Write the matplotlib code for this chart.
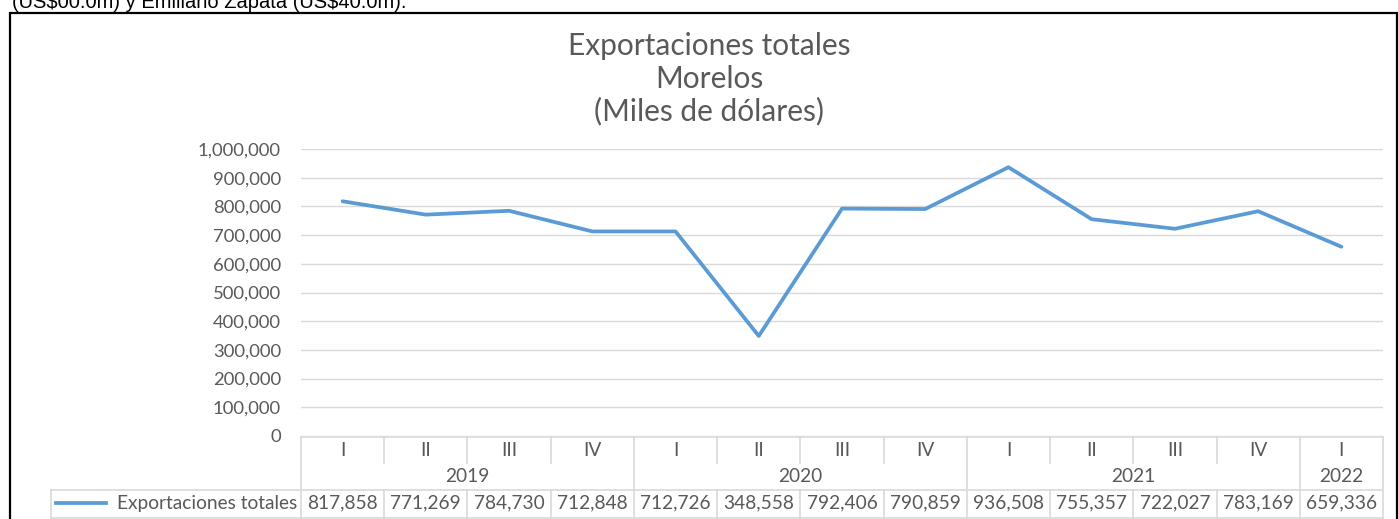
import matplotlib
matplotlib.use("Agg")
import matplotlib.pyplot as plt
from matplotlib.transforms import blended_transform_factory
from matplotlib.patches import Rectangle
from matplotlib.ticker import FuncFormatter

quarters = ["I", "II", "III", "IV", "I", "II", "III", "IV", "I", "II", "III", "IV", "I"]
years = ["2019", "2020", "2021", "2022"]
year_counts = [4, 4, 4, 1]
values = [817858, 771269, 784730, 712848, 712726, 348558, 792406, 790859,
          936508, 755357, 722027, 783169, 659336]
series_name = "Exportaciones totales"
title_lines = ["Exportaciones totales", "Morelos", "(Miles de dólares)"]
top_text = "(US\\$00.0m) y Emiliano Zapata (US\\$40.0m)."

W, H = 1398, 519
TXT = "#595959"
GRID = "#D9D9D9"
LINE = "#5B9BD5"
FONT = "Lato"
FS = 13.8

fig = plt.figure(figsize=(W / 100, H / 100), dpi=100)
fx = lambda p: p / W
fy = lambda p: 1 - p / H

# clipped text at the very top and black frame
fig.text(fx(12), fy(8), top_text, fontsize=14.5, family="Liberation Sans",
         color="black", va="baseline", ha="left")
fig.patches.append(Rectangle((fx(9.5), fy(540)), fx(1387), fy(13) - fy(540),
                             transform=fig.transFigure, fill=False,
                             edgecolor="black", linewidth=1.6))

L, R, T, B = 301, 1383, 149, 436
ax = fig.add_axes([fx(L), fy(B), fx(R) - fx(L), fy(T) - fy(B)])
n = len(values)
x = list(range(n))
ax.plot(x, values, color=LINE, linewidth=2.7, solid_joinstyle="round",
        solid_capstyle="round", zorder=3)
ax.set_xlim(-0.5, n - 0.5)
ax.set_ylim(0, 1_000_000)
ax.set_yticks(range(0, 1_000_001, 100_000))
ax.yaxis.set_major_formatter(FuncFormatter(lambda v, p: f"{int(v):,}"))
ax.grid(axis="y", color=GRID, linewidth=1)
ax.set_axisbelow(True)
for s in ax.spines.values():
    s.set_visible(False)
ax.tick_params(axis="y", length=0, pad=14.4, labelsize=13.3, labelcolor=TXT)
for lab in ax.get_yticklabels():
    lab.set_family(FONT)
ax.set_xticks([])

for yy, line in zip([46, 79, 111], title_lines):
    fig.text(fx(709), fy(yy), line, ha="center", va="center",
             fontsize=21.5, family=FONT, color=TXT)

# table below
tr = blended_transform_factory(ax.transData, fig.transFigure)
lk = dict(color=GRID, linewidth=1.2, clip_on=False, transform=tr)
y_top, y_q, y_d, y_bot = fy(437), fy(463), fy(490), fy(518)
ax.plot([-0.5, n - 0.5], [y_top, y_top], **lk)
bounds = [-0.5]
for c in year_counts:
    bounds.append(bounds[-1] + c)
for b in bounds:
    ax.plot([b, b], [y_top, y_bot], **lk)
for i in range(n - 1):
    b = i + 0.5
    if b not in bounds:
        ax.plot([b, b], [y_top, y_q], **lk)
        ax.plot([b, b], [y_d, y_bot], **lk)
figline = dict(color=GRID, linewidth=1.2, transform=fig.transFigure)
fig.lines.append(plt.Line2D([fx(51), fx(R)], [y_d, y_d], **figline))
fig.lines.append(plt.Line2D([fx(51), fx(R)], [y_bot, y_bot], **figline))
fig.lines.append(plt.Line2D([fx(51), fx(51)], [y_d, y_bot], **figline))

tk = dict(ha="center", va="center", fontsize=FS, family=FONT, color=TXT,
          transform=tr)
for i, q in enumerate(quarters):
    ax.text(i, fy(450), q, **tk)
    ax.text(i, fy(503), f"{values[i]:,}", **tk)
for j, yr in enumerate(years):
    ax.text((bounds[j] + bounds[j + 1]) / 2, fy(476), yr, **tk)

fig.lines.append(plt.Line2D([fx(56), fx(106)], [fy(503), fy(503)], color=LINE,
                            linewidth=2.7, transform=fig.transFigure))
fig.text(fx(297), fy(503), series_name, ha="right", va="center",
         fontsize=FS, family=FONT, color=TXT)

fig.savefig("out.png", dpi=100)
